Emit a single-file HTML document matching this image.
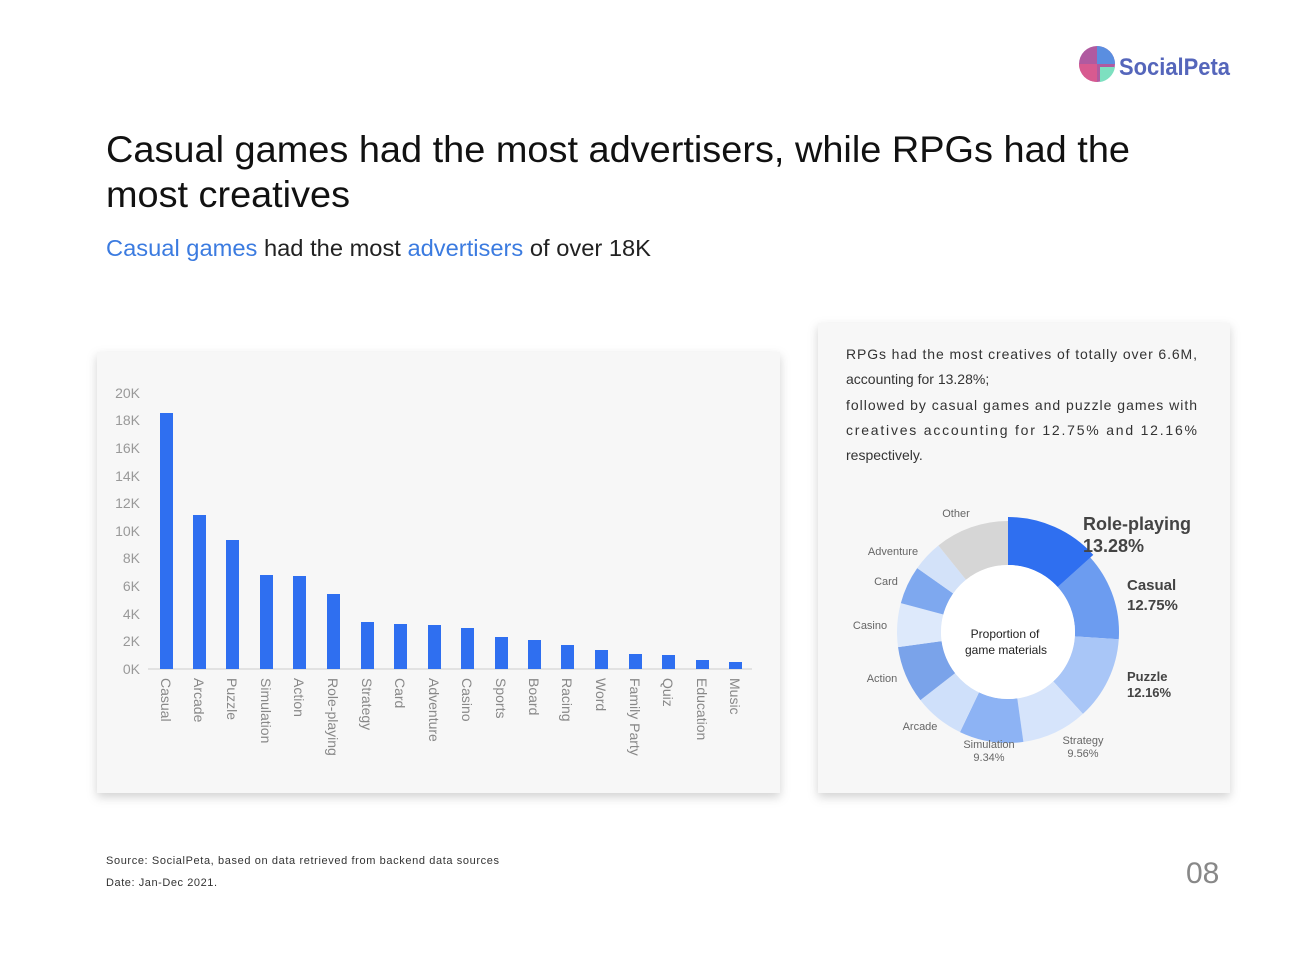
<!DOCTYPE html>
<html><head><meta charset="utf-8"><style>
html,body{margin:0;padding:0;background:#fff;}
svg{display:block;font-family:"Liberation Sans",Arial,sans-serif;}
</style></head><body>
<svg width="1298" height="960" viewBox="0 0 1298 960" xmlns="http://www.w3.org/2000/svg">
<defs>
<filter id="sh" x="-5%" y="-5%" width="110%" height="115%"><feDropShadow dx="0" dy="4" stdDeviation="5" flood-color="#000" flood-opacity="0.18"/></filter>
</defs>
<rect width="1298" height="960" fill="#fff"/>
<circle cx="1097" cy="64" r="18" fill="#b05aa0"/>
<path d="M1097 46 A18 18 0 0 1 1115 64 L1097 64 Z" fill="#5a8ee0"/>
<path d="M1097 64 L1097 82 A18 18 0 0 1 1079 64 Z" fill="#d85a90"/>
<path d="M1100 67 L1115 67 A18 18 0 0 1 1100 82 Z" fill="#7de0c0"/>
<text x="1119" y="75" font-size="24" font-weight="bold" fill="#5566bb" textLength="111" lengthAdjust="spacingAndGlyphs">SocialPeta</text>
<text x="106" y="162" font-size="37" fill="#111" textLength="1024" lengthAdjust="spacingAndGlyphs">Casual games had the most advertisers, while RPGs had the</text>
<text x="106" y="207" font-size="37" fill="#111" textLength="244" lengthAdjust="spacingAndGlyphs">most creatives</text>
<text x="106" y="256" font-size="23" fill="#222" textLength="545" lengthAdjust="spacingAndGlyphs"><tspan fill="#3b7be0">Casual games</tspan> had the most <tspan fill="#3b7be0">advertisers</tspan> of over 18K</text>
<rect x="97" y="352" width="683" height="441" fill="#f7f7f7" filter="url(#sh)"/>
<g font-size="14" fill="#999" text-anchor="end">
<text x="140" y="674">0K</text><text x="140" y="646">2K</text><text x="140" y="619">4K</text><text x="140" y="591">6K</text><text x="140" y="563">8K</text><text x="140" y="536">10K</text><text x="140" y="508">12K</text><text x="140" y="481">14K</text><text x="140" y="453">16K</text><text x="140" y="425">18K</text><text x="140" y="398">20K</text>
</g>
<line x1="148" y1="669" x2="752" y2="669" stroke="#ccc" stroke-width="1"/>
<g fill="#2f6ff0">
<rect x="160" y="413" width="13" height="256"/>
<rect x="193" y="515" width="13" height="154"/>
<rect x="226" y="540" width="13" height="129"/>
<rect x="260" y="575" width="13" height="94"/>
<rect x="293" y="576" width="13" height="93"/>
<rect x="327" y="594" width="13" height="75"/>
<rect x="361" y="622" width="13" height="47"/>
<rect x="394" y="624" width="13" height="45"/>
<rect x="428" y="625" width="13" height="44"/>
<rect x="461" y="628" width="13" height="41"/>
<rect x="495" y="637" width="13" height="32"/>
<rect x="528" y="640" width="13" height="29"/>
<rect x="561" y="645" width="13" height="24"/>
<rect x="595" y="650" width="13" height="19"/>
<rect x="629" y="654" width="13" height="15"/>
<rect x="662" y="655" width="13" height="14"/>
<rect x="696" y="660" width="13" height="9"/>
<rect x="729" y="662" width="13" height="7"/>
</g>
<g font-size="14" fill="#888">
<text transform="translate(161,678) rotate(90)">Casual</text>
<text transform="translate(194,678) rotate(90)">Arcade</text>
<text transform="translate(227,678) rotate(90)">Puzzle</text>
<text transform="translate(261,678) rotate(90)">Simulation</text>
<text transform="translate(294,678) rotate(90)">Action</text>
<text transform="translate(328,678) rotate(90)">Role-playing</text>
<text transform="translate(362,678) rotate(90)">Strategy</text>
<text transform="translate(395,678) rotate(90)">Card</text>
<text transform="translate(429,678) rotate(90)">Adventure</text>
<text transform="translate(462,678) rotate(90)">Casino</text>
<text transform="translate(496,678) rotate(90)">Sports</text>
<text transform="translate(529,678) rotate(90)">Board</text>
<text transform="translate(562,678) rotate(90)">Racing</text>
<text transform="translate(596,678) rotate(90)">Word</text>
<text transform="translate(630,678) rotate(90)">Family Party</text>
<text transform="translate(663,678) rotate(90)">Quiz</text>
<text transform="translate(697,678) rotate(90)">Education</text>
<text transform="translate(730,678) rotate(90)">Music</text>
</g>
<rect x="818" y="323" width="412" height="470" fill="#f7f7f7" filter="url(#sh)"/>
<g font-size="14" fill="#333">
<text x="846" y="359" textLength="351" lengthAdjust="spacing">RPGs had the most creatives of totally over 6.6M,</text>
<text x="846" y="384">accounting for 13.28%;</text>
<text x="846" y="410" textLength="351" lengthAdjust="spacing">followed by casual games and puzzle games with</text>
<text x="846" y="435" textLength="351" lengthAdjust="spacing">creatives  accounting  for  12.75%  and  12.16%</text>
<text x="846" y="460">respectively.</text>
</g>
<g transform="rotate(-90 1008 632)" fill="none" stroke-width="44">
<circle cx="1008" cy="632" r="89" stroke="#6c9cf0" stroke-dasharray="71.3 600" stroke-dashoffset="-74.25"/>
<circle cx="1008" cy="632" r="89" stroke="#a9c6f7" stroke-dasharray="68.0 600" stroke-dashoffset="-145.56"/>
<circle cx="1008" cy="632" r="89" stroke="#d6e4fb" stroke-dasharray="53.6 600" stroke-dashoffset="-213.6"/>
<circle cx="1008" cy="632" r="89" stroke="#8db3f4" stroke-dasharray="52.2 600" stroke-dashoffset="-267.1"/>
<circle cx="1008" cy="632" r="89" stroke="#cfe0fa" stroke-dasharray="41.0 600" stroke-dashoffset="-319.4"/>
<circle cx="1008" cy="632" r="89" stroke="#7aa3ea" stroke-dasharray="46.6 600" stroke-dashoffset="-360.4"/>
<circle cx="1008" cy="632" r="89" stroke="#dde9fb" stroke-dasharray="35.7 600" stroke-dashoffset="-407.0"/>
<circle cx="1008" cy="632" r="89" stroke="#7ea8ef" stroke-dasharray="31.1 600" stroke-dashoffset="-442.7"/>
<circle cx="1008" cy="632" r="89" stroke="#d3e2f9" stroke-dasharray="24.9 600" stroke-dashoffset="-473.8"/>
<circle cx="1008" cy="632" r="89" stroke="#d6d6d6" stroke-dasharray="60.6 600" stroke-dashoffset="-498.7"/>
<circle cx="1008" cy="632" r="91" stroke="#2f6ff0" stroke-width="48" stroke-dasharray="76 600" stroke-dashoffset="0"/>
</g>
<circle cx="1008" cy="632" r="67" fill="#fff"/>
<g font-size="12" fill="#222" text-anchor="middle">
<text x="1005" y="638">Proportion of</text><text x="1006" y="654">game materials</text>
</g>
<g font-size="11" fill="#666" text-anchor="middle">
<text x="956" y="517">Other</text>
<text x="893" y="555">Adventure</text>
<text x="886" y="585">Card</text>
<text x="870" y="629">Casino</text>
<text x="882" y="682">Action</text>
<text x="920" y="730">Arcade</text>
<text x="989" y="748">Simulation</text><text x="989" y="761">9.34%</text>
<text x="1083" y="744">Strategy</text><text x="1083" y="757">9.56%</text>
</g>
<g font-weight="bold" fill="#444">
<text x="1083" y="530" font-size="18">Role-playing</text>
<text x="1083" y="552" font-size="18">13.28%</text>
<text x="1127" y="590" font-size="15">Casual</text>
<text x="1127" y="610" font-size="15">12.75%</text>
<text x="1127" y="681" font-size="13">Puzzle</text>
<text x="1127" y="697" font-size="13">12.16%</text>
</g>
<text x="106" y="864" font-size="11" fill="#333" textLength="393" lengthAdjust="spacing">Source: SocialPeta, based on data retrieved from backend data sources</text>
<text x="106" y="886" font-size="11" fill="#333" textLength="111" lengthAdjust="spacing">Date: Jan-Dec 2021.</text>
<text x="1186" y="883" font-size="30" fill="#888">08</text>
</svg>
</body></html>
